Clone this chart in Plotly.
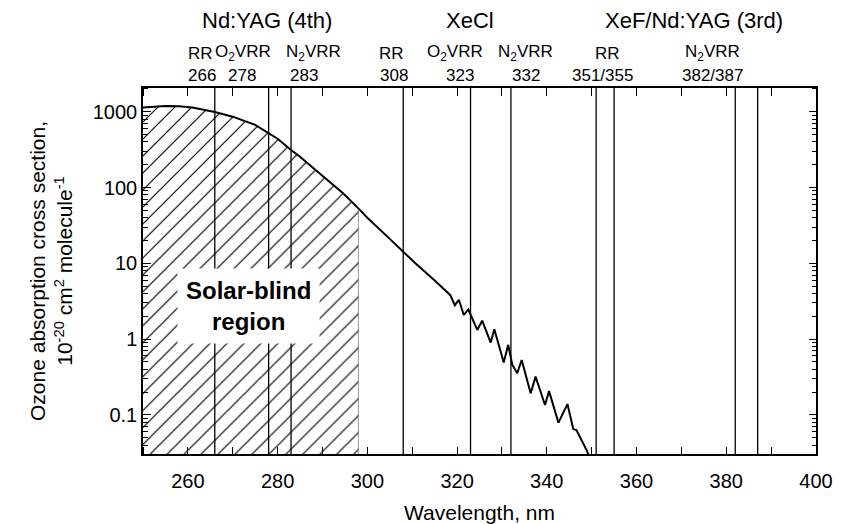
import plotly.graph_objects as go
import math

# ---- data ----
wavelength = [250, 252, 255, 258, 261, 266, 270, 275, 278, 280, 283, 285, 288, 290.9,
              294.6, 298, 300, 305, 308, 310.7, 315.2, 318.5, 319.5, 320.4, 321.5,
              322.5, 324.5, 325.6, 327.5, 328.3, 330.4, 331.4, 332.3, 333.4, 334.4,
              336.4, 337.5, 339.6, 340.5, 342.6, 344.6, 345.9, 346.6, 349.0, 349.4]
cross_section = [1140, 1170, 1190, 1180, 1140, 990, 860, 670, 528, 440, 312, 255, 180, 128,
                 84, 53, 40, 21, 14, 10, 5.8, 3.8, 2.8, 3.3, 2.08,
                 2.47, 1.32, 1.75, 0.90, 1.35, 0.49, 0.84, 0.46, 0.355, 0.53,
                 0.193, 0.32, 0.135, 0.206, 0.079, 0.139, 0.065, 0.063, 0.033, 0.028]

solar_blind_edge = 298

line_wl = [266, 278, 283, 308, 323, 332, 351, 355, 382, 387]

row1_labels = ["Nd:YAG (4th)", "XeCl", "XeF/Nd:YAG (3rd)"]
row1_x = [277.6, 322.9, 372.8]
row2_labels = ["RR", "O<sub>2</sub>VRR", "N<sub>2</sub>VRR", "RR", "O<sub>2</sub>VRR",
               "N<sub>2</sub>VRR", "RR", "N<sub>2</sub>VRR"]
row2_x = [262.9, 272.2, 287.9, 305.4, 319.6, 335.3, 353.6, 377.0]
row3_labels = ["266", "278", "283", "308", "323", "332", "351/355", "382/387"]
row3_x = [263.1, 272.0, 285.9, 305.9, 320.7, 335.3, 352.5, 377.0]

x_labels = [260, 280, 300, 320, 340, 360, 380, 400]
x_tick_marks = [250, 260, 270, 280, 290, 300, 310, 320, 330, 340, 350, 360, 370, 380, 390, 400]
y_major = [0.1, 1, 10, 100, 1000]
y_major_text = ["0.1", "1", "10", "100", "1000"]
y_minor_digits = [2, 3, 4, 5, 6, 7, 8, 9]
y_decades = [0.01, 0.1, 1, 10, 100, 1000]
y_minor = [d * dec for dec in y_decades for d in y_minor_digits]

FONT = "Liberation Sans, Arial, Helvetica, sans-serif"
X_RANGE = [250, 400]
Y_RANGE = [math.log10(0.0305), math.log10(2055)]

# plot-area size in px (for placing the tick-only axes just inside the frame)
W, H = 857, 524
ML, MR, MT, MB = 143, 41, 88, 70
PW, PH = W - ML - MR, H - MT - MB
MAJOR_LEN, MINOR_LEN = 8, 5

fig = go.Figure()

hx = [w for w in wavelength if w <= solar_blind_edge]
hy = cross_section[:len(hx)]
poly_x = hx + [solar_blind_edge, wavelength[0]]
poly_y = hy + [1e-3, 1e-3]
fig.add_trace(go.Scatter(
    x=poly_x, y=poly_y, mode="lines", fill="toself",
    line=dict(color="rgba(0,0,0,0.5)", width=0.8),
    fillcolor="white",
    fillpattern=dict(shape="/", size=12, solidity=0.1, fgcolor="black",
                     bgcolor="white", fgopacity=1),
    hoverinfo="skip", showlegend=False))

fig.add_trace(go.Scatter(
    x=wavelength, y=cross_section, mode="lines",
    line=dict(color="black", width=2), showlegend=False))

# invisible traces binding the tick-only axes
for xa, ya in [("x2", "y"), ("x3", "y"), ("x", "y2"), ("x", "y3"), ("x", "y4"), ("x", "y5")]:
    fig.add_trace(go.Scatter(
        x=wavelength, y=cross_section, mode="lines", xaxis=xa, yaxis=ya,
        line=dict(color="rgba(0,0,0,0)", width=0), hoverinfo="skip", showlegend=False))

for w in line_wl:
    fig.add_shape(type="line", xref="x", yref="paper", x0=w, x1=w, y0=0, y1=1,
                  line=dict(color="black", width=1.3), layer="above")

def pix_to_paper(py):
    return (MT + PH - py) / PH

for t, x in zip(row1_labels, row1_x):
    fig.add_annotation(x=x, y=pix_to_paper(20), xref="x", yref="paper", text=t,
                       showarrow=False, font=dict(size=22, color="black", family=FONT),
                       xanchor="center", yanchor="middle")
for t, x in zip(row2_labels, row2_x):
    fig.add_annotation(x=x, y=pix_to_paper(53), xref="x", yref="paper", text=t,
                       showarrow=False, font=dict(size=17, color="black", family=FONT),
                       xanchor="center", yanchor="middle")
for t, x in zip(row3_labels, row3_x):
    fig.add_annotation(x=x, y=pix_to_paper(76), xref="x", yref="paper", text=t,
                       showarrow=False, font=dict(size=17, color="black", family=FONT),
                       xanchor="center", yanchor="middle")

fig.add_annotation(x=273.5, y=pix_to_paper(306), xref="x", yref="paper",
                   text="<b>Solar-blind</b><br><b>region</b>", showarrow=False,
                   font=dict(size=24, color="black", family=FONT),
                   bgcolor="white", borderpad=8, xanchor="center", yanchor="middle")

def tick_axis(rng, vals, side, pos, length, overlay, axtype="linear"):
    return dict(type=axtype, range=rng, overlaying=overlay, anchor="free", position=pos,
                side=side, tickmode="array", tickvals=vals, ticks="outside",
                ticklen=length, tickwidth=1.2, tickcolor="black",
                showticklabels=False, showline=False, showgrid=False, zeroline=False,
                automargin=False, layer="above traces")

fig.update_layout(
    width=W, height=H,
    margin=dict(l=ML, r=MR, t=MT, b=MB, autoexpand=False),
    paper_bgcolor="white", plot_bgcolor="rgba(0,0,0,0)",
    font=dict(family=FONT, color="black"),
    showlegend=False,
    xaxis=dict(
        range=X_RANGE, tickmode="array", tickvals=x_labels,
        ticks="outside", ticklen=8, tickcolor="rgba(0,0,0,0)", automargin=False,
        showline=True, linecolor="black", linewidth=1.5, mirror=True,
        showgrid=False, zeroline=False, tickfont=dict(size=20, color="black"),
        title=dict(text="Wavelength, nm", font=dict(size=21, color="black"), standoff=20),
    ),
    yaxis=dict(
        type="log", range=Y_RANGE, tickmode="array", tickvals=y_major, ticktext=y_major_text,
        ticks="", automargin=False,
        showline=True, linecolor="black", linewidth=1.5, mirror=True,
        showgrid=False, zeroline=False, tickfont=dict(size=20, color="black"),
        title=dict(text="Ozone absorption cross section,<br>10<sup>-20</sup> cm<sup>2</sup> molecule<sup>-1</sup>",
                   font=dict(size=21, color="black"), standoff=14),
    ),
    xaxis2=tick_axis(X_RANGE, x_tick_marks, "bottom", MAJOR_LEN / PH, MAJOR_LEN, "x"),
    xaxis3=tick_axis(X_RANGE, x_tick_marks, "top", 1 - MAJOR_LEN / PH, MAJOR_LEN, "x"),
    yaxis2=tick_axis(Y_RANGE, y_major, "left", MAJOR_LEN / PW, MAJOR_LEN, "y", "log"),
    yaxis3=tick_axis(Y_RANGE, y_minor, "left", MINOR_LEN / PW, MINOR_LEN, "y", "log"),
    yaxis4=tick_axis(Y_RANGE, y_major, "right", 1 - MAJOR_LEN / PW, MAJOR_LEN, "y", "log"),
    yaxis5=tick_axis(Y_RANGE, y_minor, "right", 1 - MINOR_LEN / PW, MINOR_LEN, "y", "log"),
)

fig.write_html("out.html")
